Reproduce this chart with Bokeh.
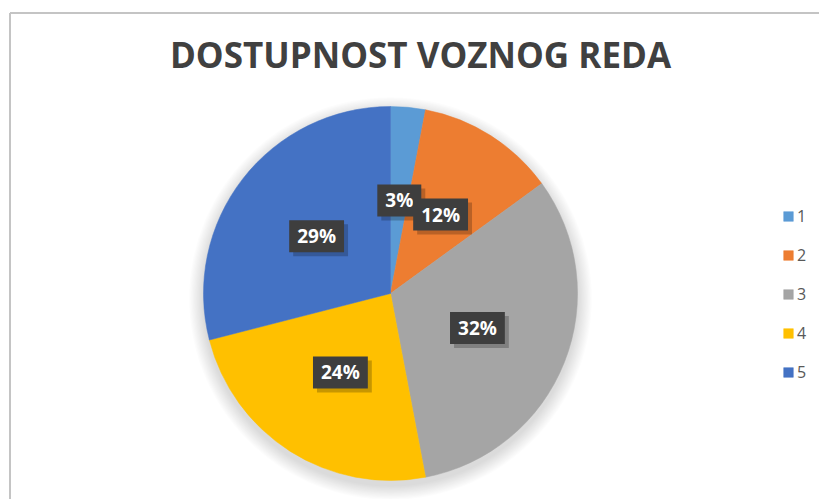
import numpy as np
from bokeh.plotting import figure
from bokeh.models import ColumnDataSource, Range1d, Legend, LegendItem, Label
from bokeh.core.properties import value
from bokeh.embed import file_html
from bokeh.resources import INLINE

# ---- data ----
title_text = "DOSTUPNOST VOZNOG REDA"
categories = ["1", "2", "3", "4", "5"]
percent = [3, 12, 32, 24, 29]
colors = ["#5B9BD5", "#ED7D31", "#A5A5A5", "#FFC000", "#4472C4"]

W, H = 819, 499
p = figure(width=W, height=H, output_backend="svg", toolbar_location=None,
           x_range=Range1d(0, W), y_range=Range1d(0, H), min_border=0)
p.axis.visible = False
p.grid.visible = False
p.outline_line_color = None
p.background_fill_color = "white"
p.border_fill_color = "white"

# chart frame (left + top edges visible in the crop)
p.segment(x0=[9.5, 9.5], y0=[0, 486.5], x1=[9.5, W], y1=[486.5, 486.5],
          line_color="#C4C4C4", line_width=2)

cx, cy, R = 390, 206, 187
vals = np.array(percent, dtype=float)
frac = vals / vals.sum()
ends = np.cumsum(frac)
starts = ends - frac
start_angle = np.pi / 2 - 2 * np.pi * starts
end_angle = np.pi / 2 - 2 * np.pi * ends
mid = (starts + ends) / 2 * 2 * np.pi
lx = cx + 0.5 * R * np.sin(mid)
ly = cy + 0.5 * R * np.cos(mid)

src = ColumnDataSource(dict(cat=categories, pct=percent, color=colors,
                            start=start_angle, end=end_angle,
                            lx=lx, ly=ly, lxs=lx + 4, lys=ly - 4,
                            label=[f"{v}%" for v in percent]))

# soft shadow under the pie
for k in range(1, 13):
    p.circle(x=[cx], y=[cy - 5], radius=R + k * 1.2, fill_color="black",
             fill_alpha=0.013, line_color=None)

wr = p.wedge(x=cx, y=cy, radius=R, start_angle="start", end_angle="end",
             direction="clock", fill_color="color", line_color="color",
             line_width=0.5, source=src)

# label shadows
p.text(x="lxs", y="lys", text="label", source=src,
       text_align="center", text_baseline="middle",
       text_font=value("Open Sans"), text_font_style="bold", text_font_size="19px",
       text_alpha=0, background_fill_color="black", background_fill_alpha=0.22,
       padding=[8, 3])
p.text(x="lx", y="ly", text="label", source=src,
       text_align="center", text_baseline="middle",
       text_font=value("Open Sans"), text_font_style="bold", text_font_size="19px",
       text_color="white", background_fill_color="#3E3E3E",
       background_fill_alpha=1.0, padding=[8, 3])

# title
p.add_layout(Label(x=420, y=445, text=title_text, text_align="center",
                   text_baseline="alphabetic", text_font="Open Sans",
                   text_font_style="bold", text_font_size="35px", text_color="#404040"))

items = [LegendItem(label=c, renderers=[wr], index=i) for i, c in enumerate(categories)]
legend = Legend(items=items, location=(782, 116), orientation="vertical",
                border_line_color=None, background_fill_alpha=0, padding=0, margin=0,
                glyph_width=12, glyph_height=12, label_height=22, spacing=17,
                label_standoff=3, label_text_font="Open Sans", label_text_font_size="16px",
                label_text_color="#595959")
p.add_layout(legend)

open("out.html", "w").write(file_html(p, INLINE))
